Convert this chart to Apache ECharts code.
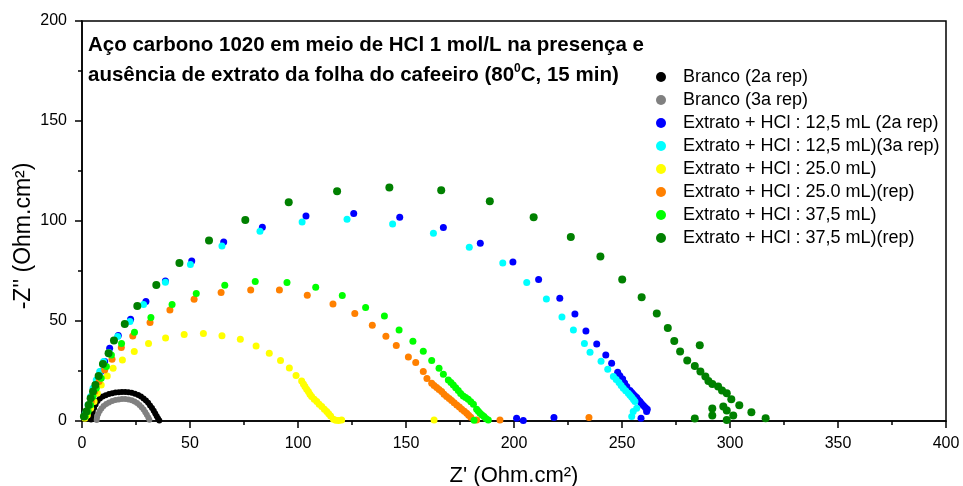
<!DOCTYPE html>
<html>
<head>
<meta charset="utf-8">
<title>Nyquist - Aço carbono 1020</title>
<script src="https://cdn.jsdelivr.net/npm/echarts@6/dist/echarts.min.js"></script>
<style>
  html, body { margin: 0; padding: 0; background: #fff; }
  #chart { width: 963px; height: 486px; }
</style>
</head>
<body>
<div id="chart"></div>
<script>
// nomes das séries (legenda)
const seriesNames = [
  'Branco (2a rep)',
  'Branco (3a rep)',
  'Extrato + HCl : 12,5 mL (2a rep)',
  'Extrato + HCl : 12,5 mL)(3a rep)',
  'Extrato + HCl : 25.0 mL)',
  'Extrato + HCl : 25.0 mL)(rep)',
  'Extrato + HCl : 37,5 mL)',
  'Extrato + HCl : 37,5 mL)(rep)'
];
const seriesColors = ['#000000', '#808080', '#0000ff', '#00ffff', '#ffff00', '#ff8000', '#00ff00', '#008000'];

// ticks
const xTicks = [0, 50, 100, 150, 200, 250, 300, 350, 400];
const yTicks = [0, 50, 100, 150, 200];

// dados [Z', -Z'']
const branco2 = [
  [4.2, 0.8], [4.5, 2.5], [5, 4.5], [5.6, 6.5], [6.3, 8.3], [7.2, 10], [8.3, 11.2], [9.6, 12.2],
  [11, 12.9], [12.5, 13.5], [14, 13.9], [15.5, 14.2], [17, 14.4], [18.5, 14.5], [20, 14.5],
  [21.5, 14.4], [23, 14.1], [24.5, 13.6], [26, 13], [27.3, 12.2], [28.5, 11.3], [29.6, 10.3],
  [30.6, 9.1], [31.5, 7.8], [32.4, 6.5], [33.2, 5.1], [33.9, 3.7], [34.6, 2.4], [35.2, 1.2], [35.8, 0.3]
];
const branco3 = [
  [6.8, 0.5], [7, 2], [7.5, 3.5], [8.2, 5], [9, 6.3], [10, 7.5], [11.2, 8.5], [12.5, 9.3], [14, 10],
  [15.5, 10.5], [17, 10.8], [18.5, 11], [20, 11], [21.5, 10.8], [23, 10.4], [24.3, 9.8], [25.5, 9],
  [26.6, 8], [27.6, 6.9], [28.5, 5.7], [29.3, 4.4], [30, 3.1], [30.7, 1.8], [31.2, 0.6]
];
const extrato125a = [
  [1.9, 3.5], [3.1, 7.2], [4.3, 11.4], [5.6, 15.5], [7.1, 19.7], [8.7, 24.7], [10.5, 29.7], [12.8, 36.4],
  [16.8, 42.8], [22.5, 50.9], [29.6, 59.7], [38.6, 70], [50.8, 80], [65.6, 89.5], [83.5, 96.9],
  [103.7, 102.5], [125.8, 103.7], [147.1, 101.9], [167.3, 96.7], [184.4, 88.9], [199.5, 79.5],
  [211.4, 70.7], [221.2, 61.4], [228.2, 53.5], [233.3, 45], [238.3, 38.5], [242.5, 33], [245.2, 28.9],
  [248, 24.4], [249, 22.6], [250.3, 21], [251.2, 19], [252.2, 17.2], [253.7, 15.2], [254.5, 14.2],
  [255.2, 13.4], [256, 12.5], [256.8, 11.7], [257.5, 10.6], [258.3, 9.7], [259, 8.7], [259.9, 7.7],
  [260.8, 6.8], [261.7, 5.9], [261.4, 4.7], [258.8, 1.4], [201.2, 1.4], [204.3, 0.2], [218.5, 1.7]
];
const extrato125b = [
  [1.5, 3.9], [2.8, 8], [4, 12.2], [5.1, 16.4], [6.6, 20.5], [8.2, 24.7], [10, 29.7], [12.5, 34.2],
  [16.5, 42.2], [22.2, 49.7], [28.5, 58.2], [38.6, 69.4], [50.2, 78.2], [64.8, 87.5], [82.4, 94.9],
  [101.9, 99.5], [122.7, 100.9], [143.8, 98.5], [162.7, 93.9], [179.3, 86.9], [194.8, 79], [205.9, 69.2],
  [215, 61], [222.2, 52], [227.5, 45.5], [232.6, 38.7], [235.2, 34.4], [240.3, 29.9], [243.4, 25.9],
  [246, 22.2], [247.3, 20.7], [248.6, 19.2], [249.6, 17.8], [250.6, 16.4], [251.7, 15.1], [252.9, 13.9],
  [253.7, 12.9], [254.5, 11.9], [255.3, 10.8], [256, 9.7], [256.8, 6.4], [255.2, 4.7], [254.5, 2.2]
];
const extrato250a = [
  [1.3, 1.4], [2.5, 3], [4, 6.4], [5.6, 9.7], [7.1, 13.9], [8.9, 18], [11.7, 22.5], [14.4, 26.4],
  [18.7, 30.5], [24.2, 34.7], [30.8, 38.7], [38.7, 41.5], [47.3, 43.2], [56.2, 43.8], [64.8, 42.6],
  [73.3, 40.9], [80.6, 37.5], [86.7, 33.9], [91.9, 30.2], [96, 26.5], [99.1, 22.7], [101.7, 20],
  [102.5, 18.5], [103.2, 17.2], [104, 15.9], [104.8, 14.7], [105.5, 13.4], [106.3, 12.2], [107.5, 10.9],
  [108.7, 9.7], [109.8, 8.4], [111, 7.2], [112.2, 5.9], [113.3, 4.7], [114.2, 3.6], [115.1, 2.5],
  [116.4, 0.9], [117.5, 0.4], [118.8, 0.3], [120.2, 0.5], [163, 0.5]
];
const extrato250b = [
  [1.3, 2.2], [2.8, 5.5], [4.3, 9.7], [5.9, 14.7], [7.9, 19.7], [10.5, 25.5], [13.9, 30.9], [18.2, 36.7],
  [23.5, 42.5], [31.5, 49.3], [40.7, 55.5], [51.9, 60.9], [64.4, 64.2], [78.1, 65.5], [91.4, 65.5],
  [104.3, 62.9], [116.2, 58.5], [126.3, 53.7], [134.4, 47.9], [140.7, 42.4], [145.5, 37.7], [151.1, 32],
  [154.5, 29.2], [158, 24.7], [159.7, 21.2], [161.9, 18.9], [163, 17.8], [164.2, 16.7], [165.3, 15.7],
  [166.5, 14.7], [167.6, 13.4], [168.8, 12.2], [170, 11.2], [171.1, 10.2], [172.3, 9.1], [173.5, 8],
  [174.7, 7], [175.8, 5.9], [177, 4.9], [178.1, 3.9], [179, 2.9], [180, 1.9], [182.7, 0.5],
  [193.5, 0.5], [234.7, 1.7]
];
const extrato375a = [
  [1.5, 2.2], [2.8, 4.7], [4, 8], [5.1, 12.2], [6.6, 16.4], [8.9, 21.4], [11.3, 27.2], [13.6, 33],
  [18.3, 38.7], [24.3, 44.4], [31.9, 51.8], [41.7, 58.2], [52.9, 63.7], [66.1, 67.9], [80.2, 69.7],
  [94.9, 69.2], [108.2, 66.9], [120.5, 62.7], [131.3, 56.7], [140, 52.5], [146.8, 45.5], [153.2, 39.9],
  [158, 34.9], [161.9, 30.2], [165.3, 26.4], [167.3, 23.4], [169.6, 20.5], [170.8, 19.2], [171.9, 18],
  [173, 16.6], [174.2, 15.2], [175.3, 13.8], [176.5, 12.5], [177.6, 11.7], [178.8, 10.9], [180, 9.6],
  [181.2, 8.4], [182.7, 5.9], [183.5, 4.9], [184.3, 3.9], [185.2, 3], [186.1, 2.2], [187, 1.3],
  [188.1, 0.5], [181.5, 0.4]
];
const extrato375b = [
  [0.9, 2.2], [2, 4.7], [3.1, 8], [4, 11.4], [5.1, 14.7], [6.2, 18], [7.7, 22.5], [9.7, 28.5],
  [12.3, 33.9], [14.8, 40.2], [19.8, 48.5], [25.6, 57.5], [34.4, 68], [45.1, 79], [58.8, 90.2],
  [75.6, 100.5], [95.7, 109.4], [118.1, 114.9], [142.3, 116.7], [166.3, 115.4], [188.8, 109.9],
  [209.1, 101.9], [226.3, 92], [240, 82.2], [250.1, 70.7], [259.1, 61.9], [266.1, 53.7], [271.2, 46.5],
  [274.2, 40], [286, 37.9], [276.9, 34.7], [280.2, 30.2], [283.7, 27.5], [286.3, 24.7], [288.6, 22.2],
  [290, 20], [291.8, 18.5], [294.5, 17.2], [296.3, 15.2], [298.5, 13.9], [300.6, 10.9], [304.3, 7.9],
  [296.9, 7.2], [291.8, 6.2], [298.5, 5.2], [301.5, 2.7], [291.8, 2.7], [309.9, 4.4], [316.5, 1.4],
  [283.7, 1.2], [298.5, 0.5]
];

const seriesData = [branco2, branco3, extrato125a, extrato125b, extrato250a, extrato250b, extrato375a, extrato375b];
const symbolSizes = [6, 6, 7, 7, 7, 7, 7, 8];

const FONT = '"Liberation Sans", Arial, sans-serif';

const chart = echarts.init(document.getElementById('chart'));

const series = seriesNames.map((name, i) => ({
  name: name,
  type: 'scatter',
  data: seriesData[i],
  symbol: 'circle',
  symbolSize: symbolSizes[i],
  itemStyle: { color: seriesColors[i], opacity: 1 },
  emphasis: { disabled: true },
  animation: false
}));

const axisCommon = {
  axisLine: { show: true, onZero: false, lineStyle: { color: '#000', width: 1.5 } },
  axisTick: { show: true, inside: false, length: 7, lineStyle: { color: '#000', width: 1.5 } },
  minorTick: { show: true, splitNumber: 2, length: 4, lineStyle: { color: '#000', width: 1.5 } },
  splitLine: { show: false },
  axisLabel: { color: '#000', fontSize: 16, fontFamily: FONT, margin: 15 },
  nameMoveOverlap: false
};

const option = {
  backgroundColor: '#fff',
  animation: false,
  title: {
    left: 83,
    top: 25,
    text: '{b|Aço carbono 1020 em meio de HCl 1 mol/L na presença e}\n' +
          '{b|ausência de extrato da folha do cafeeiro (80}{s|0}{b|C, 15 min)}',
    textStyle: {
      rich: {
        b: { fontSize: 20.5, fontWeight: 'bold', fontFamily: FONT, color: '#000', lineHeight: 30 },
        s: { fontSize: 12, fontWeight: 'bold', fontFamily: FONT, color: '#000', lineHeight: 30, verticalAlign: 'top', padding: [3, 0, 0, 0] }
      }
    }
  },
  legend: {
    orient: 'vertical',
    left: 651,
    top: 63,
    itemWidth: 34,
    itemHeight: 10,
    itemGap: 5,
    selectedMode: false,
    icon: 'circle',
    textStyle: { color: '#000', fontSize: 18, fontFamily: FONT },
    data: seriesNames.map((n, i) => ({ name: n, itemStyle: { color: seriesColors[i] } }))
  },
  grid: {
    left: 82,
    right: 17,
    top: 21,
    bottom: 65,
    containLabel: false,
    outerBoundsMode: 'none',
    show: true,
    borderColor: '#000',
    borderWidth: 1.5,
    backgroundColor: 'transparent'
  },
  xAxis: Object.assign({}, axisCommon, {
    type: 'value',
    min: xTicks[0],
    max: xTicks[xTicks.length - 1],
    interval: xTicks[1] - xTicks[0],
    name: "Z' (Ohm.cm²)",
    nameLocation: 'middle',
    nameGap: 44,
    nameTextStyle: { color: '#000', fontSize: 22, fontFamily: FONT }
  }),
  yAxis: Object.assign({}, axisCommon, {
    type: 'value',
    min: yTicks[0],
    max: yTicks[yTicks.length - 1],
    interval: yTicks[1] - yTicks[0],
    name: "-Z'' (Ohm.cm²)",
    nameLocation: 'middle',
    nameGap: 47,
    nameTextStyle: { color: '#000', fontSize: 23, fontFamily: FONT, padding: [0, 30, 0, 0] }
  }),
  series: series
};

chart.setOption(option);

window.addEventListener('resize', () => chart.resize());
</script>
</body>
</html>
